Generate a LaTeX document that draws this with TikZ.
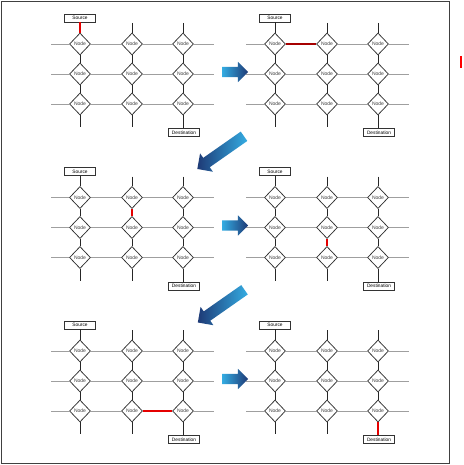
\documentclass[tikz,border=0pt]{standalone}
\usepackage{fontspec}
\setmainfont{Liberation Sans}
\usetikzlibrary{shapes.geometric,shapes.arrows}

\definecolor{arrowlight}{RGB}{52,172,226}
\definecolor{arrowdark}{RGB}{30,58,118}

\begin{document}
\begin{tikzpicture}[x=1pt, y=1pt]
\tikzstyle{meshnode} = [diamond, draw = gray!40!black, fill = white, line width = 0.75pt, minimum width = 21pt, minimum height = 22pt, inner sep = 0pt, font = \fontsize{5}{5}\selectfont, text = black!75]
\tikzstyle{endbox} = [rectangle, draw = black!80, fill = white, line width = 0.7pt, minimum width = 31pt, minimum height = 8pt, inner sep = 0pt, font = \fontsize{4.8}{5}\selectfont]
\tikzstyle{hline} = [draw = gray!75, line width = 0.8pt]
\tikzstyle{vline} = [draw = black!85, line width = 0.8pt]
\tikzstyle{hot} = [draw = red!90!black, line width = 2.4pt]
\tikzstyle{moveright} = [single arrow, minimum height = 26pt, minimum width = 20pt, inner xsep = 0pt, inner ysep = 5pt, single arrow head extend = 5pt, left color = arrowlight, right color = arrowdark]
\tikzstyle{movedown} = [single arrow, minimum height = 57pt, minimum width = 22pt, inner xsep = 0pt, inner ysep = 5.5pt, single arrow head extend = 5.5pt, left color = arrowdark, right color = arrowlight, rotate = 215]

\useasboundingbox (0,0) rectangle (463,-465);
\draw [black!75, line width = 0.8pt] (1,-1) rectangle (449,-463);
\draw [red, line width = 2.6pt] (461,-56) -- (461,-68);

% six snapshots of the route through the mesh
\foreach \p/\ox/\oy in {a/0/0, b/195/0, c/0/-153.5, d/195/-153.5, e/0/-307, f/195/-307} {
\begin{scope}[shift = {(\ox,\oy)}]
 \node [endbox] (\p s) at (80,-18) {Source};
 \node [endbox] (\p d) at (184,-132.5) {Destination};
 \foreach \c/\x in {1/80, 2/132, 3/183}
  \foreach \r/\y in {1/44, 2/74, 3/104}
   \node [meshnode] (\p\r\c) at (\x,-\y) {Node};
 \foreach \r/\y in {1/44, 2/74, 3/104} {
  \coordinate (\p w\r) at (51,-\y);
  \coordinate (\p e\r) at (214,-\y);
  \draw [hline] (\p w\r) -- (\p\r1) -- (\p\r2) -- (\p\r3) -- (\p e\r);
 }
 \coordinate (\p t2) at (132,-23);
 \coordinate (\p t3) at (183,-23);
 \coordinate (\p u1) at (80,-127);
 \coordinate (\p u2) at (132,-127);
 \draw [vline] (\p s) -- (\p11) -- (\p21) -- (\p31) -- (\p u1);
 \draw [vline] (\p t2) -- (\p12) -- (\p22) -- (\p32) -- (\p u2);
 \draw [vline] (\p t3) -- (\p13) -- (\p23) -- (\p33) -- (\p33 |- \p d.north);
\end{scope}
}

% the hop taken in each snapshot
\draw [hot] (as) -- (a11);
\draw [hot, draw = red!65!black] (b11) -- (b12);
\draw [hot] (c12) -- (c22);
\draw [hot] (d22) -- (d32);
\draw [hot] (e32) -- (e33);
\draw [hot] (f33) -- (f33 |- fd.north);

% arrows between snapshots
\node [moveright] (ab) at (232.5,-72) {};
\node [moveright] (cd) at (232.5,-225.5) {};
\node [moveright] (ef) at (232.5,-379) {};
\node [movedown] (bc) at (223,-151) {};
\node [movedown] (de) at (223.5,-304.5) {};
\end{tikzpicture}
\end{document}
